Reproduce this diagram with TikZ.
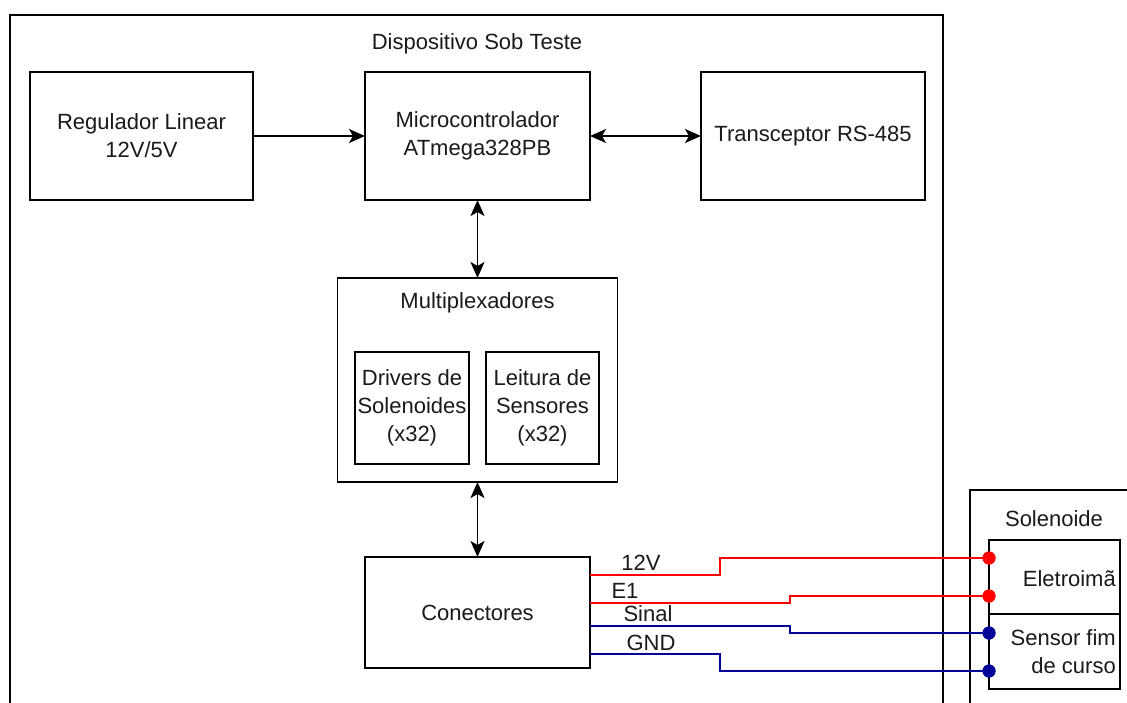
\documentclass[tikz,border=0pt]{standalone}
\usepackage{fontspec}
\setmainfont{Liberation Sans}
\usetikzlibrary{arrows.meta,calc}
\definecolor{wred}{HTML}{FF0000}
\definecolor{wblue}{HTML}{000099}
\definecolor{txt}{HTML}{1A1A1A}
\tikzset{
  box/.style={draw=black,line width=1.9pt,inner sep=0pt,outer sep=0pt,fill=white,
    align=center,text=txt,font=\fontsize{22}{28}\selectfont},
  lbl/.style={inner sep=0pt,text=txt,font=\fontsize{22}{28}\selectfont},
  arr/.style={line width=1.7pt,-{Stealth[length=16pt,width=14pt,inset=4pt]}},
  darr/.style={line width=1.7pt,{Stealth[length=16pt,width=14pt,inset=4pt]}-{Stealth[length=16pt,width=14pt,inset=4pt]}},
  redw/.style={draw=wred,line width=1.6pt},
  bluew/.style={draw=wblue,line width=1.6pt},
  rdot/.style={circle,fill=wred,inner sep=0pt,minimum size=13pt},
  bdot/.style={circle,fill=wblue,inner sep=0pt,minimum size=13pt}
}
\begin{document}
\begin{tikzpicture}[x=1pt,y=-1pt]
\useasboundingbox (0,0) rectangle (1127,702);
\clip (0,0) rectangle (1127,702);
\fill[white] (0,0) rectangle (1127,702);
% outer device box
\node[box,anchor=north west,minimum width=933pt,minimum height=720pt] (dut) at (10,15) {};
\node[lbl] (duttitle) at (477,44) {Dispositivo Sob Teste};
% solenoid outer box
\node[box,anchor=north west,minimum width=180pt,minimum height=240pt] (sol) at (970,490) {};
\node[lbl] (soltitle) at (1054,519) {Solenoide};
% top row
\node[box,minimum width=223pt,minimum height=128pt] (reg) at (141.5,136) {Regulador Linear\\12V/5V};
\node[box,minimum width=225pt,minimum height=128pt] (mcu) at (477.5,136) {Microcontrolador\\ATmega328PB};
\node[box,minimum width=224pt,minimum height=128pt] (rs) at (813,136) {Transceptor RS-485};
% mux
\node[box,minimum width=280pt,minimum height=204pt] (mux) at (477.5,380) {};
\node[lbl] (muxtitle) at (477.5,303) {Multiplexadores};
\node[box,minimum width=114pt,minimum height=112pt] (drv) at (412,408) {Drivers de\\Solenoides\\(x32)};
\node[box,minimum width=113pt,minimum height=112pt] (sen) at (542.5,408) {Leitura de\\Sensores\\(x32)};
% connectors
\node[box,minimum width=225pt,minimum height=111pt] (con) at (477.5,612.5) {Conectores};
% solenoid parts
\node[box,anchor=north west,minimum width=131pt,minimum height=74pt] (ele) at (989,540) {};
\node[box,anchor=north west,minimum width=131pt,minimum height=75pt] (fim) at (989,614) {};
\node[lbl,anchor=east] (eletxt) at (1116,579) {Eletroimã};
\node[lbl,anchor=east,align=right] (fimtxt) at (1116,652) {Sensor fim\\de curso};
% arrows
\draw[arr] (reg.east) -- (mcu.west);
\draw[darr] (mcu.east) -- (rs.west);
\draw[darr] (mcu.south) -- (mux.north);
\draw[darr] (mux.south) -- (con.north);
% wire endpoints
\coordinate (c1) at (590,575);
\coordinate (c2) at (590,603);
\coordinate (c3) at (590,626);
\coordinate (c4) at (590,654);
\node[rdot] (d1) at (989,558) {};
\node[rdot] (d2) at (989,596) {};
\node[bdot] (d3) at (989,633) {};
\node[bdot] (d4) at (989,671) {};
\draw[redw] (c1) -- ++(130,0) |- (d1.center);
\draw[redw] (c2) -- ++(200,0) |- (d2.center);
\draw[bluew] (c3) -- ++(200,0) |- (d3.center);
\draw[bluew] (c4) -- ++(130,0) |- (d4.center);
\node[rdot] at (d1) {};
\node[rdot] at (d2) {};
\node[bdot] at (d3) {};
\node[bdot] at (d4) {};
% wire labels
\node[lbl] (l1) at (641,563) {12V};
\node[lbl] (l2) at (625,591) {E1};
\node[lbl] (l3) at (648,614) {Sinal};
\node[lbl] (l4) at (651,643) {GND};
\end{tikzpicture}
\end{document}
